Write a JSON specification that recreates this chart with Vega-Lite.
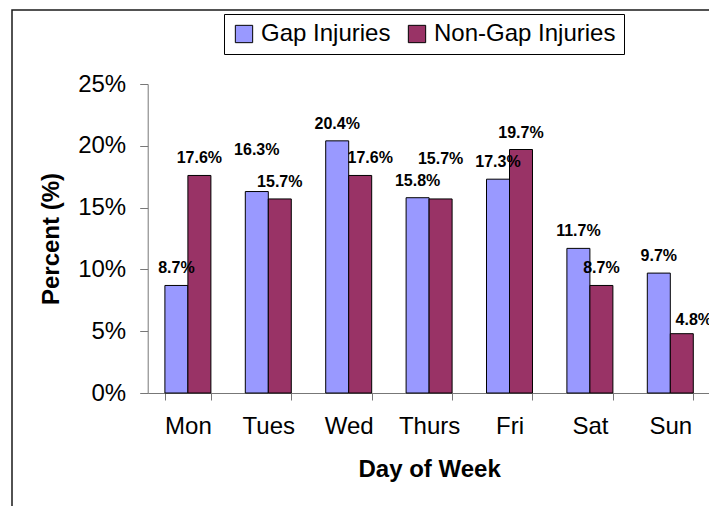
{
  "$schema": "https://vega.github.io/schema/vega-lite/v6.json",
  "width": 707,
  "height": 510,
  "autosize": {"type": "none"},
  "padding": {"left": 12, "top": 10, "right": -10, "bottom": -14},
  "background": "white",
  "config": {
    "font": "Liberation Sans",
    "view": {"stroke": "#1a1a1a", "strokeWidth": 1.5},
    "axis": {"grid": false}
  },
  "data": {
    "values": [
      {"day": "Mon", "series": "Gap Injuries", "value": 0.087},
      {"day": "Mon", "series": "Non-Gap Injuries", "value": 0.176},
      {"day": "Tues", "series": "Gap Injuries", "value": 0.163},
      {"day": "Tues", "series": "Non-Gap Injuries", "value": 0.157},
      {"day": "Wed", "series": "Gap Injuries", "value": 0.204},
      {"day": "Wed", "series": "Non-Gap Injuries", "value": 0.176},
      {"day": "Thurs", "series": "Gap Injuries", "value": 0.158},
      {"day": "Thurs", "series": "Non-Gap Injuries", "value": 0.157},
      {"day": "Fri", "series": "Gap Injuries", "value": 0.173},
      {"day": "Fri", "series": "Non-Gap Injuries", "value": 0.197},
      {"day": "Sat", "series": "Gap Injuries", "value": 0.117},
      {"day": "Sat", "series": "Non-Gap Injuries", "value": 0.087},
      {"day": "Sun", "series": "Gap Injuries", "value": 0.097},
      {"day": "Sun", "series": "Non-Gap Injuries", "value": 0.048}
    ]
  },
  "encoding": {
    "x": {
      "field": "day",
      "type": "nominal",
      "sort": ["Mon", "Tues", "Wed", "Thurs", "Fri", "Sat", "Sun"],
      "scale": {"range": [135.7, 698.5], "paddingInner": 0.428, "paddingOuter": 0.214},
      "axis": {
        "orient": "bottom",
        "offset": -127,
        "labelAngle": 0,
        "labelFontSize": 24,
        "labelColor": "black",
        "labelPadding": 14,
        "tickSize": 7,
        "tickBand": "extent",
        "tickColor": "#777777",
        "domainColor": "#777777",
        "title": "Day of Week",
        "titleFontSize": 24,
        "titleFontWeight": "bold",
        "titleColor": "black",
        "titlePadding": 19
      }
    },
    "xOffset": {
      "field": "series",
      "type": "nominal",
      "sort": ["Gap Injuries", "Non-Gap Injuries"],
      "scale": {"paddingInner": 0, "paddingOuter": 0}
    },
    "y": {
      "field": "value",
      "type": "quantitative",
      "scale": {"domain": [0, 0.25], "range": [383, 74], "nice": false},
      "axis": {
        "orient": "left",
        "offset": -135.7,
        "values": [0, 0.05, 0.1, 0.15, 0.2, 0.25],
        "format": ".0%",
        "labelFontSize": 24,
        "labelColor": "black",
        "labelPadding": 14,
        "tickSize": 8,
        "tickColor": "#777777",
        "domainColor": "#777777",
        "title": "Percent (%)",
        "titleFontSize": 24,
        "titleFontWeight": "bold",
        "titleColor": "black",
        "titlePadding": 14
      }
    }
  },
  "layer": [
    {
      "mark": {"type": "bar", "stroke": "black", "strokeWidth": 1},
      "encoding": {
        "color": {
          "field": "series",
          "type": "nominal",
          "scale": {"domain": ["Gap Injuries", "Non-Gap Injuries"], "range": ["#9999FF", "#993366"]},
          "legend": {
            "orient": "none",
            "legendX": 212,
            "legendY": 4,
            "direction": "horizontal",
            "title": null,
            "symbolType": "square",
            "symbolSize": 300,
            "symbolStrokeColor": "black",
            "symbolStrokeWidth": 1,
            "symbolOpacity": 1,
            "labelFontSize": 24,
            "labelColor": "black",
            "labelLimit": 400,
            "labelOffset": 5,
            "columnPadding": 14,
            "padding": 8,
            "strokeColor": "black",
            "fillColor": "white"
          }
        }
      }
    },
    {
      "transform": [{"filter": "!((datum.day == 'Tues' && datum.series == 'Gap Injuries') || (datum.day == 'Thurs' && datum.series == 'Non-Gap Injuries') || (datum.day == 'Wed' && datum.series == 'Non-Gap Injuries') || (datum.day == 'Sun' && datum.series == 'Non-Gap Injuries'))"}],
      "mark": {"type": "text", "fontWeight": "bold", "fontSize": 16, "dy": -12, "baseline": "alphabetic", "color": "black"},
      "encoding": {
        "text": {"field": "value", "type": "quantitative", "format": ".1%"}
      }
    },
    {
      "transform": [{"filter": "datum.day == 'Tues' && datum.series == 'Gap Injuries'"}],
      "mark": {"type": "text", "fontWeight": "bold", "fontSize": 16, "dy": -37, "baseline": "alphabetic", "color": "black"},
      "encoding": {
        "text": {"field": "value", "type": "quantitative", "format": ".1%"}
      }
    },
    {
      "transform": [{"filter": "datum.day == 'Thurs' && datum.series == 'Non-Gap Injuries'"}],
      "mark": {"type": "text", "fontWeight": "bold", "fontSize": 16, "dy": -35, "baseline": "alphabetic", "color": "black"},
      "encoding": {
        "text": {"field": "value", "type": "quantitative", "format": ".1%"}
      }
    },
    {
      "transform": [{"filter": "datum.day == 'Wed' && datum.series == 'Non-Gap Injuries'"}],
      "mark": {"type": "text", "fontWeight": "bold", "fontSize": 16, "dx": 10, "dy": -12, "baseline": "alphabetic", "color": "black"},
      "encoding": {
        "text": {"field": "value", "type": "quantitative", "format": ".1%"}
      }
    },
    {
      "transform": [{"filter": "datum.day == 'Sun' && datum.series == 'Non-Gap Injuries'"}],
      "mark": {"type": "text", "fontWeight": "bold", "fontSize": 16, "dx": 12, "dy": -9, "baseline": "alphabetic", "color": "black"},
      "encoding": {
        "text": {"field": "value", "type": "quantitative", "format": ".1%"}
      }
    }
  ]
}
